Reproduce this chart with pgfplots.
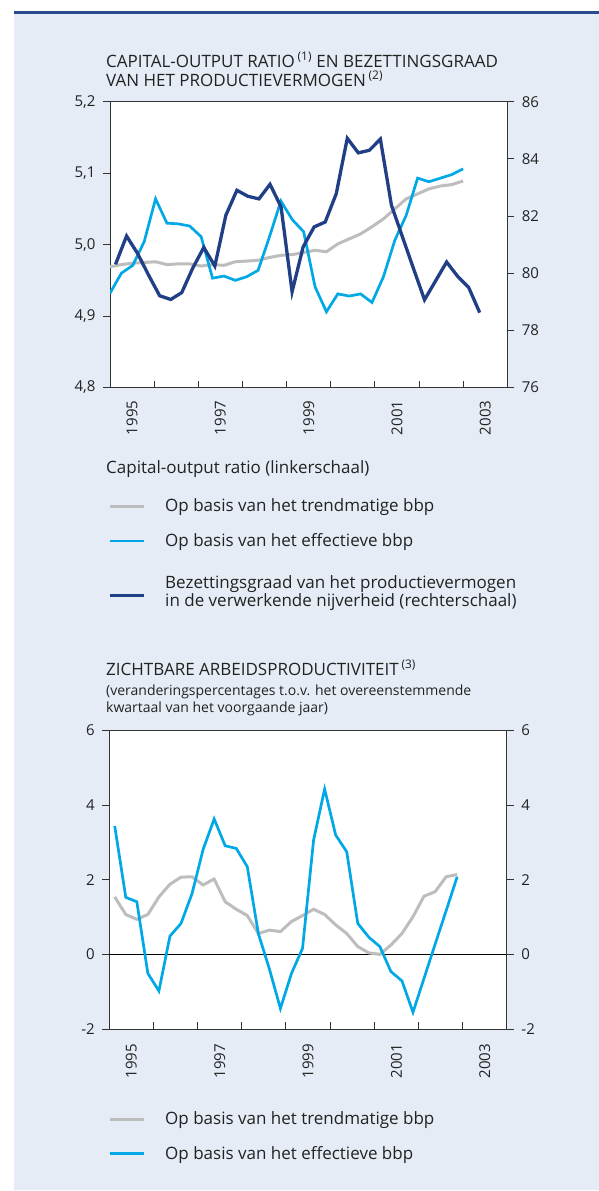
\documentclass[border=0pt]{standalone}
\usepackage{fontspec}
\setmainfont{Open Sans}
\usepackage{pgfplots}
\usepackage{pgfplotstable}
\pgfplotsset{compat=1.18}

\definecolor{panelbg}{HTML}{E5ECF5}
\definecolor{rulecol}{HTML}{2A4C8E}
\definecolor{utilblue}{HTML}{213F86}
\definecolor{effblue}{HTML}{00A8E6}
\definecolor{trendgray}{HTML}{BDBDBD}
\definecolor{axisgray}{HTML}{333333}
\definecolor{txt}{HTML}{222222}

% capital-output ratio, left scale
\pgfplotstableread{
x        trend  eff
1995.000 4.969  4.932
1995.258 4.972  4.960
1995.516 4.974  4.971
1995.774 4.975  5.004
1996.032 4.976  5.064
1996.290 4.972  5.030
1996.548 4.973  5.029
1996.806 4.973  5.026
1997.065 4.970  5.011
1997.323 4.972  4.953
1997.581 4.971  4.956
1997.839 4.976  4.950
1998.097 4.977  4.955
1998.355 4.978  4.964
1998.613 4.982  5.011
1998.871 4.985  5.061
1999.129 4.986  5.035
1999.387 4.989  5.018
1999.645 4.992  4.941
1999.903 4.990  4.906
2000.161 5.001  4.931
2000.419 5.008  4.928
2000.677 5.015  4.931
2000.935 5.025  4.919
2001.194 5.036  4.955
2001.452 5.050  5.006
2001.710 5.064  5.041
2001.968 5.071  5.093
2002.226 5.078  5.088
2002.484 5.082  5.093
2002.742 5.084  5.098
2003.000 5.089  5.106
}\capratio

% bezettingsgraad, right scale
\pgfplotstableread{
x        util
1995.125 80.31
1995.375 81.30
1995.625 80.69
1995.875 79.93
1996.125 79.21
1996.375 79.08
1996.625 79.32
1996.875 80.18
1997.125 80.90
1997.375 80.25
1997.625 82.03
1997.875 82.90
1998.125 82.69
1998.375 82.60
1998.625 83.11
1998.875 82.32
1999.125 79.35
1999.375 80.92
1999.625 81.62
1999.875 81.79
2000.125 82.78
2000.375 84.72
2000.625 84.21
2000.875 84.30
2001.125 84.69
2001.375 82.38
2001.625 81.27
2001.875 80.16
2002.125 79.07
2002.375 79.73
2002.625 80.39
2002.875 79.89
2003.125 79.50
2003.375 78.62
}\utilisation

% zichtbare arbeidsproductiviteit
\pgfplotstableread{
x        trend  eff
1995.125 1.54   3.44
1995.375 1.07   1.53
1995.625 0.94   1.41
1995.875 1.07  -0.51
1996.125 1.54  -0.98
1996.375 1.88   0.49
1996.625 2.07   0.83
1996.875 2.08   1.63
1997.125 1.86   2.81
1997.375 2.02   3.63
1997.625 1.41   2.91
1997.875 1.21   2.84
1998.125 1.04   2.35
1998.375 0.56   0.56
1998.625 0.65  -0.39
1998.875 0.61  -1.45
1999.125 0.88  -0.51
1999.375 1.04   0.16
1999.625 1.21   3.06
1999.875 1.07   4.43
2000.125 0.79   3.20
2000.375 0.56   2.75
2000.625 0.21   0.83
2000.875 0.04   0.46
2001.125 0.00   0.21
2001.375 0.25  -0.46
2001.625 0.56  -0.71
2001.875 1.01  -1.55
2002.125 1.56  -0.64
2002.375 1.68   0.27
2002.625 2.08   1.17
2002.875 2.14   2.08
}\productivity

\pgfplotsset{
  panel/.style={
    scale only axis,
    xmin=1995, xmax=2004,
    axis line style={axisgray, line width=0.9pt},
    every tick/.style={axisgray, line width=0.9pt},
    major tick length=7pt,
    tick label style={font=\fontsize{15}{17}\selectfont, text=txt},
    /pgf/number format/assume math mode=true,
  },
  yearticks/.style={
    axis y line=none, axis x line*=bottom, ymin=0, ymax=1,
    tick align=inside,
    xtick={1996,...,2003}, xticklabels={},
    extra x ticks={1995.5,1997.5,1999.5,2001.5,2003.5},
    extra x tick labels={1995,1997,1999,2001,2003},
    extra x tick style={major tick length=0pt,
      tick label style={rotate=90, anchor=east, inner xsep=#1}},
  },
  serie/.style={line width=#1, no markers},
}

\begin{document}
\begin{tikzpicture}
\useasboundingbox (0,0) rectangle (599pt,-1191pt);
\fill[panelbg] (14pt,-13pt) rectangle (599pt,-1190pt);
\fill[rulecol] (14pt,-10.5pt) rectangle (599pt,-13.5pt);

% ---------- top chart ----------
\node[anchor=base west, inner sep=0pt, text=txt, font=\fontsize{17}{20}\selectfont]
  at (106pt,-67pt) {CAPITAL-OUTPUT RATIO\,\textsuperscript{(1)} EN BEZETTINGSGRAAD};
\node[anchor=base west, inner sep=0pt, text=txt, font=\fontsize{17}{20}\selectfont]
  at (106pt,-86pt) {VAN HET PRODUCTIEVERMOGEN\,\textsuperscript{(2)}};

\begin{axis}[panel, at={(110pt,-387.5pt)}, anchor=south west,
  width=397.3pt, height=285.8pt,
  ymin=4.8, ymax=5.2, ytick={4.8,4.9,5.0,5.1,5.2},
  ytick pos=left, tick align=outside, xtick=\empty,
  yticklabel style={xshift=-4pt, /pgf/number format/.cd, use comma, fixed, fixed zerofill, precision=1},
  axis background/.style={fill=white},
]
\addplot[serie=3pt, trendgray] table[x=x, y=trend] {\capratio};
\addplot[serie=2.7pt, effblue] table[x=x, y=eff] {\capratio};
\end{axis}

\begin{axis}[panel, at={(110pt,-387.5pt)}, anchor=south west,
  width=397.3pt, height=285.8pt,
  ymin=76, ymax=86, ytick={76,78,...,86},
  axis y line*=right, axis x line=none, tick align=outside,
  yticklabel style={xshift=4pt},
]
\addplot[serie=3.3pt, utilblue] table[x=x, y=util] {\utilisation};
\end{axis}

\begin{axis}[panel, yearticks=13pt, at={(110pt,-387.5pt)}, anchor=south west,
  width=397.3pt, height=285.8pt]
\end{axis}

% legend top
\node[anchor=base west, inner sep=0pt, text=txt, font=\fontsize{17}{20}\selectfont]
  at (106pt,-473pt) {Capital-output ratio (linkerschaal)};
\draw[trendgray, line width=3pt] (110pt,-506.7pt) -- (144pt,-506.7pt);
\node[anchor=base west, inner sep=0pt, text=txt, font=\fontsize{17}{20}\selectfont]
  at (165pt,-511pt) {Op basis van het trendmatige bbp};
\draw[effblue, line width=2.7pt] (110pt,-541pt) -- (144pt,-541pt);
\node[anchor=base west, inner sep=0pt, text=txt, font=\fontsize{17}{20}\selectfont]
  at (165pt,-546pt) {Op basis van het effectieve bbp};
\draw[utilblue, line width=3.3pt] (110pt,-595.7pt) -- (144pt,-595.7pt);
\node[anchor=base west, inner sep=0pt, text=txt, font=\fontsize{17}{20}\selectfont]
  at (165pt,-588pt) {Bezettingsgraad van het productievermogen};
\node[anchor=base west, inner sep=0pt, text=txt, font=\fontsize{17}{20}\selectfont]
  at (165pt,-606pt) {in de verwerkende nijverheid (rechterschaal)};

% ---------- bottom chart ----------
\node[anchor=base west, inner sep=0pt, text=txt, font=\fontsize{17}{20}\selectfont]
  at (106pt,-675pt) {ZICHTBARE ARBEIDSPRODUCTIVITEIT\,\textsuperscript{(3)}};
\node[anchor=base west, inner sep=0pt, text=txt, font=\fontsize{14}{16}\selectfont]
  at (106pt,-695pt) {(veranderingspercentages t.o.v. het overeenstemmende};
\node[anchor=base west, inner sep=0pt, text=txt, font=\fontsize{14}{16}\selectfont]
  at (106pt,-712pt) {kwartaal van het voorgaande jaar)};

\begin{axis}[panel, at={(109.2pt,-1029pt)}, anchor=south west,
  width=397.7pt, height=298.5pt,
  ymin=-2, ymax=6, ytick={-2,0,...,6},
  ytick pos=left, tick align=outside, xtick=\empty,
  yticklabel style={xshift=-4pt},
  extra y ticks={0}, extra y tick labels={},
  extra y tick style={major tick length=0pt, grid=major,
    major grid style={black, line width=0.9pt}},
  axis background/.style={fill=white},
]
\addplot[serie=3pt, trendgray] table[x=x, y=trend] {\productivity};
\addplot[serie=2.7pt, effblue] table[x=x, y=eff] {\productivity};
\end{axis}

\begin{axis}[panel, at={(109.2pt,-1029pt)}, anchor=south west,
  width=397.7pt, height=298.5pt,
  ymin=-2, ymax=6, ytick={-2,0,...,6},
  axis y line*=right, axis x line=none, tick align=outside,
  yticklabel style={xshift=4pt},
]
\end{axis}

\begin{axis}[panel, yearticks=15pt, at={(109.2pt,-1029pt)}, anchor=south west,
  width=397.7pt, height=298.5pt]
\end{axis}

% legend bottom
\draw[trendgray, line width=3pt] (110pt,-1119pt) -- (144pt,-1119pt);
\node[anchor=base west, inner sep=0pt, text=txt, font=\fontsize{17}{20}\selectfont]
  at (165pt,-1124.5pt) {Op basis van het trendmatige bbp};
\draw[effblue, line width=2.7pt] (110pt,-1153.7pt) -- (144pt,-1153.7pt);
\node[anchor=base west, inner sep=0pt, text=txt, font=\fontsize{17}{20}\selectfont]
  at (165pt,-1159pt) {Op basis van het effectieve bbp};
\end{tikzpicture}
\end{document}
